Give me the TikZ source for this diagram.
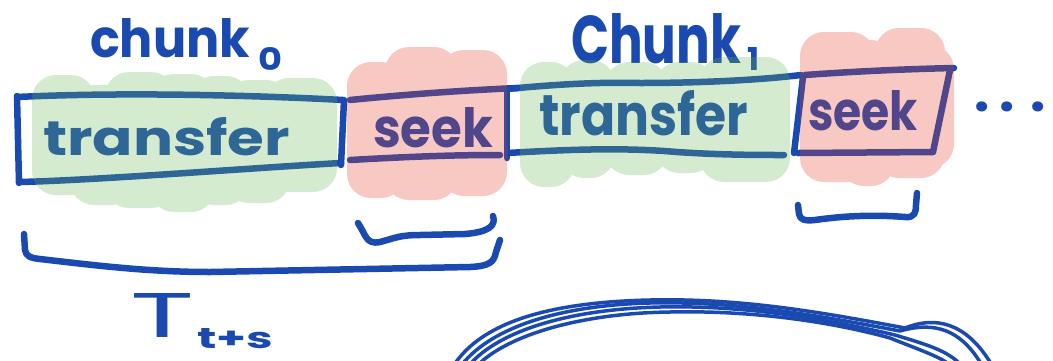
\documentclass[tikz,border=0pt]{standalone}
\usepackage{fontspec}
\usepackage{graphicx}
\setmainfont{Poppins}
\definecolor{inkblue}{RGB}{26,74,176}
\definecolor{blobgreen}{RGB}{100,181,81}
\definecolor{blobpink}{RGB}{230,62,41}
\tikzset{
  ink/.style={draw=inkblue, line width=6.5pt, line cap=round, line join=round},
  thinink/.style={draw=inkblue, line width=3.5pt, line cap=round, line join=round},
  lbl/.style={inner sep=0pt, outer sep=0pt, anchor=base west, text=inkblue, font=\bfseries},
  gblob/.style={fill=blobgreen, fill opacity=0.27, rounded corners=24pt},
  pblob/.style={fill=blobpink, fill opacity=0.28, rounded corners=24pt}
}
\begin{document}
\begin{tikzpicture}[x=1pt,y=-1pt]
\useasboundingbox (0,0) rectangle (1053,360);
\clip (0,0) rectangle (1053,360);
% ---- labels
\node[lbl] (chunk0) at (90,57) {\resizebox{160pt}{39pt}{chunk}\hspace{8pt}\raisebox{-13pt}{\resizebox{24pt}{23pt}{0}}};
\node[lbl] (chunk1) at (571,63) {\resizebox{170pt}{50pt}{Chunk}\hspace{6pt}\raisebox{-7pt}{\resizebox{12pt}{23pt}{1}}};
\node[lbl] (transfer0) at (43,155) {\resizebox{247pt}{38pt}{transfer}};
\node[lbl] (seek0) at (373,147) {\resizebox{120pt}{40pt}{seek}};
\node[lbl] (transfer1) at (539,135) {\resizebox{209pt}{45pt}{transfer}};
\node[lbl] (seek1) at (808,130) {\resizebox{110pt}{40pt}{seek}};
\node[lbl] (dots) at (974,111) {\fontsize{54}{54}\selectfont .\hspace{10pt}.\hspace{16pt}.};
\node[lbl, font=\mdseries] (T) at (130,337) {\resizebox{64pt}{44pt}{T}\hspace{3pt}\raisebox{-11pt}{\resizebox{76pt}{20pt}{\bfseries t+s}}};
% ---- box 0: transfer
\draw[ink] (17,97) .. controls (120,92) and (250,95) .. (343,100);
\draw[ink] (344,100) -- (341,165);
\draw[ink] (341,163) .. controls (250,168) and (100,180) .. (20,182);
\draw[ink] (17,96) -- (19,183);
% ---- box 0: seek
\draw[ink] (350,100) .. controls (410,94) and (470,90) .. (518,88);
\draw[ink] (507,91) -- (507,158);
\draw[ink] (350,160) .. controls (420,156) and (460,155) .. (500,155);
% ---- box 1: transfer
\draw[ink] (507,89) .. controls (560,84) and (600,82) .. (640,83) .. controls (700,83) and (760,80) .. (801,75);
\draw[ink] (507,153) .. controls (560,150) and (620,147) .. (677,152) .. controls (720,155) and (760,155) .. (784,155);
\draw[ink] (803,77) -- (794,153);
% ---- box 1: seek
\draw[ink] (805,75) .. controls (860,71) and (910,69) .. (954,68);
\draw[ink] (950,70) -- (933,152);
\draw[ink] (798,153) -- (933,152);
% ---- brackets
\draw[ink] (358,223) .. controls (366,235) and (366,245) .. (380,242) .. controls (395,238) and (400,235) .. (420,235) -- (465,234) .. controls (490,232) and (496,225) .. (493,216);
\draw[ink] (24,234) -- (25,250) .. controls (26,256) and (30,258) .. (40,259) .. controls (100,266) and (150,272) .. (210,272) -- (470,267) .. controls (490,266) and (494,262) .. (496,252) -- (500,240);
\draw[ink] (798,205) -- (799,214) .. controls (800,220) and (805,221) .. (815,220) .. controls (850,215) and (880,215) .. (905,217) .. controls (915,218) and (916,212) .. (916,205) -- (917,193);
% ---- scribbled curve at the bottom
\draw[thinink] (456,362) .. controls (488,318) and (560,302) .. (650,300) .. controls (740,298) and (820,312) .. (905,328) .. controls (935,316) and (965,322) .. (990,362);
\draw[thinink] (464,362) .. controls (498,323) and (570,305) .. (650,303) .. controls (740,301) and (820,316) .. (900,331) .. controls (935,321) and (960,330) .. (980,362);
\draw[thinink] (472,362) .. controls (506,327) and (578,309) .. (660,307) .. controls (750,305) and (830,320) .. (895,335) .. controls (925,344) and (945,350) .. (958,362);
\draw[thinink] (481,362) .. controls (515,332) and (588,313) .. (670,312) .. controls (760,310) and (840,324) .. (890,338) .. controls (915,348) and (935,355) .. (946,362);
% ---- highlight blobs (drawn over the ink, translucent)
\fill[gblob] (32,75) rectangle (95,195) (70,85) rectangle (135,205) (105,72) rectangle (175,208)
  (150,74) rectangle (215,212) (190,76) rectangle (250,205) (225,80) rectangle (290,203) (265,78) rectangle (337,192);
\fill[pblob] (347,62) rectangle (405,198) (385,47) rectangle (458,200) (440,50) rectangle (507,196);
\fill[gblob] (520,62) rectangle (575,187) (560,60) rectangle (615,178) (605,62) rectangle (668,175)
  (655,62) rectangle (715,173) (700,57) rectangle (790,182);
\fill[pblob] (800,32) rectangle (875,182) (840,40) rectangle (895,186) (875,28) rectangle (945,178) (905,45) rectangle (954,168);
\end{tikzpicture}
\end{document}
